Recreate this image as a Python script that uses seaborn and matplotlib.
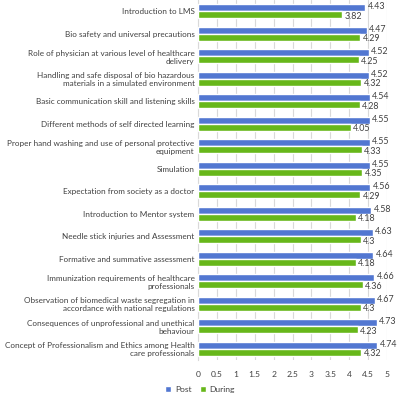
import pandas as pd
import matplotlib
matplotlib.use("Agg")
import matplotlib.pyplot as plt
import seaborn as sns

topics = [
    "Introduction to LMS",
    "Bio safety and universal precautions",
    "Role of physician at various level of healthcare\ndelivery",
    "Handling and safe disposal of bio hazardous\nmaterials in a simulated environment",
    "Basic communication skill and listening skills",
    "Different methods of self directed learning",
    "Proper hand washing and use of personal protective\nequipment",
    "Simulation",
    "Expectation from society as a doctor",
    "Introduction to Mentor system",
    "Needle stick injuries and Assessment",
    "Formative and summative assessment",
    "Immunization requirements of healthcare\nprofessionals",
    "Observation of biomedical waste segregation in\naccordance with national regulations",
    "Consequences of unprofessional and unethical\nbehaviour",
    "Concept of Professionalism and Ethics among Health\ncare professionals",
]
post = [4.43, 4.47, 4.52, 4.52, 4.54, 4.55, 4.55, 4.55, 4.56, 4.58, 4.63, 4.64, 4.66, 4.67, 4.73, 4.74]
during = [3.82, 4.29, 4.25, 4.32, 4.28, 4.05, 4.33, 4.35, 4.29, 4.18, 4.3, 4.18, 4.36, 4.3, 4.23, 4.32]

df = pd.DataFrame({
    "topic": topics * 2,
    "score": post + during,
    "phase": ["Post"] * len(post) + ["During"] * len(during),
})

sns.set_style("white")
plt.rcParams["font.family"] = ["Lato", "DejaVu Sans"]

fig = plt.figure(figsize=(4, 3.96), dpi=100)
ax = fig.add_axes([0.495, 0.091, 0.4725, 0.909])

sns.barplot(data=df, y="topic", x="score", hue="phase", orient="h",
            palette={"Post": "#3D6EE6", "During": "#66D100"},
            width=0.62, gap=0, errorbar=None, ax=ax, zorder=3)

for cont, dy in zip(ax.containers, [-0.04, 0.06]):
    for bar, v in zip(cont, cont.datavalues):
        txt = ("%.2f" % v).rstrip("0").rstrip(".")
        ax.text(v + 0.06, bar.get_y() + bar.get_height() / 2 + dy, txt,
                va="center", ha="left", fontsize=6.4, color="#404040")

ax.set_xlim(0, 5)
ax.set_xticks([0, 0.5, 1, 1.5, 2, 2.5, 3, 3.5, 4, 4.5, 5])
ax.set_xticklabels(["0", "0.5", "1", "1.5", "2", "2.5", "3", "3.5", "4", "4.5", "5"])
ax.grid(axis="x", color="#d9d9d9", linewidth=0.8, zorder=0)
ax.set_xlabel("")
ax.set_ylabel("")
ax.tick_params(axis="y", length=0, labelsize=5.9, colors="#404040", pad=2.5)
ax.tick_params(axis="x", length=0, labelsize=6.1, colors="#404040", pad=8)
for s in ["top", "right", "bottom"]:
    ax.spines[s].set_visible(False)
ax.spines["left"].set_color("#d9d9d9")

handles, labels = ax.get_legend_handles_labels()
ax.get_legend().remove()
fig.legend(handles, labels, loc="center", bbox_to_anchor=(0.5, 0.016), ncol=2, frameon=False,
           fontsize=6.1, handlelength=0.7, handleheight=0.7, columnspacing=1.0,
           handletextpad=0.4, labelcolor="#404040", borderpad=0.1)

fig.savefig("out.png", dpi=100)
